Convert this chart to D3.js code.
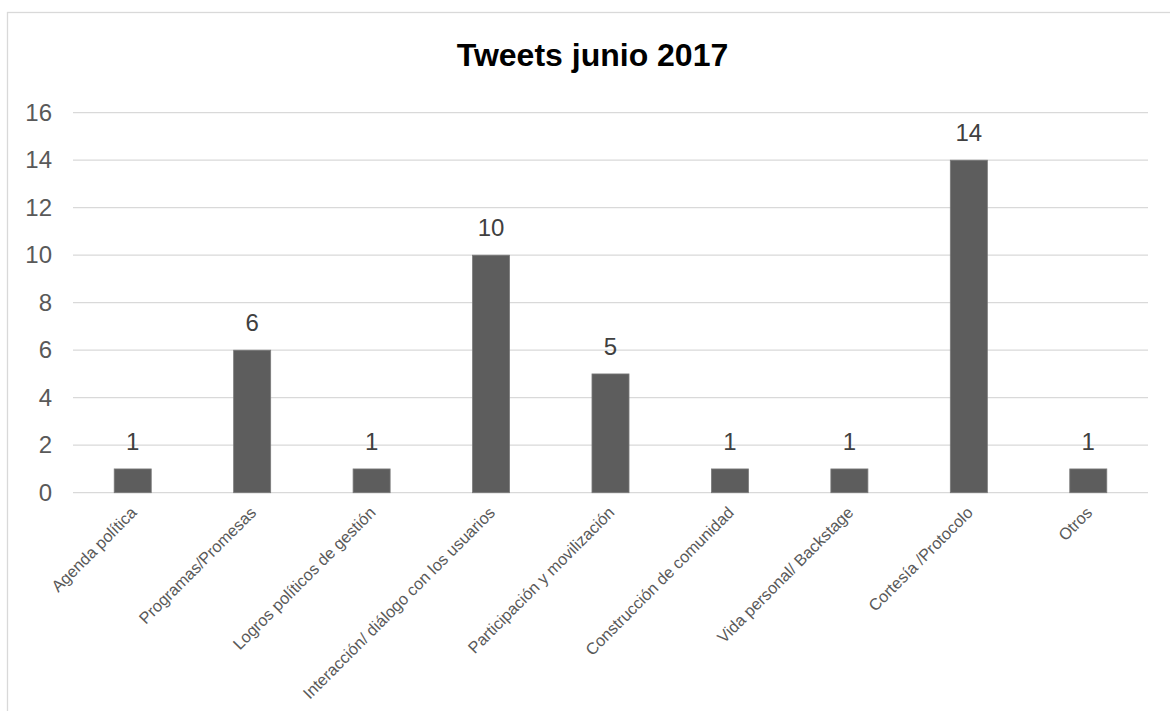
<!DOCTYPE html>
<html>
<head>
<meta charset="utf-8">
<script src="https://cdn.jsdelivr.net/npm/d3@7"></script>
<style>
  html, body { margin: 0; padding: 0; background: #fff; }
  svg { display: block; font-family: "Liberation Sans", Arial, sans-serif; }
</style>
</head>
<body>
<svg id="chart" width="1170" height="711"></svg>
<script>
// Tweet counts by category, June 2017
const categories = [
  "Agenda política",
  "Programas/Promesas",
  "Logros políticos de gestión",
  "Interacción/ diálogo con los usuarios",
  "Participación y movilización",
  "Construcción de comunidad",
  "Vida personal/ Backstage",
  "Cortesía /Protocolo",
  "Otros"
];
const tweets = [1, 6, 1, 10, 5, 1, 1, 14, 1];
const yTicks = [0, 2, 4, 6, 8, 10, 12, 14, 16];
const chartTitle = "Tweets junio 2017";

const svg = d3.select("#chart");
const plot = { left: 73, right: 1148, top: 112.7, bottom: 492.7 };

// outer frame (runs past the right and bottom edges)
svg.append("rect")
  .attr("x", 7.5).attr("y", 12.5)
  .attr("width", 1300).attr("height", 900)
  .attr("fill", "#fff")
  .attr("stroke", "#d9d9d9").attr("stroke-width", 1.3);

const x = d3.scaleBand()
  .domain(categories)
  .range([plot.left, plot.right])
  .paddingInner(0.69)
  .paddingOuter(0.345);

const y = d3.scaleLinear()
  .domain([0, 16])
  .range([plot.bottom, plot.top]);

// horizontal gridlines
svg.append("g")
  .selectAll("line")
  .data(yTicks)
  .join("line")
  .attr("x1", plot.left).attr("x2", plot.right)
  .attr("y1", d => y(d)).attr("y2", d => y(d))
  .attr("stroke", "#d9d9d9").attr("stroke-width", 1.3);

// y axis labels
const yAxis = d3.axisLeft(y).tickValues(yTicks).tickSize(0).tickPadding(0);
const gy = svg.append("g").attr("transform", "translate(52,0)").call(yAxis);
gy.select(".domain").remove();
gy.selectAll("text")
  .attr("fill", "#595959")
  .style("font-size", "24px")
  .style("font-family", "'Liberation Sans', Arial, sans-serif");

// bars
svg.append("g")
  .selectAll("rect")
  .data(categories)
  .join("rect")
  .attr("x", d => x(d))
  .attr("width", x.bandwidth())
  .attr("y", (d, i) => y(tweets[i]))
  .attr("height", (d, i) => y(0) - y(tweets[i]))
  .attr("fill", "#5d5d5d")
  .attr("stroke", "#7a7a7a").attr("stroke-width", 0.8);

// value labels above bars
svg.append("g")
  .selectAll("text")
  .data(categories)
  .join("text")
  .attr("x", d => x(d) + x.bandwidth() / 2)
  .attr("y", (d, i) => y(tweets[i]) - 19)
  .attr("text-anchor", "middle")
  .attr("fill", "#404040")
  .style("font-size", "24px")
  .text((d, i) => tweets[i]);

// rotated category labels
const xAxis = d3.axisBottom(x).tickSize(0).tickPadding(0);
const gx = svg.append("g").attr("transform", `translate(0,${plot.bottom})`).call(xAxis);
gx.select(".domain").remove();
gx.selectAll("text")
  .attr("y", 0).attr("dy", 0)
  .attr("text-anchor", "end")
  .attr("transform", "translate(5,21) rotate(-45)")
  .attr("fill", "#595959")
  .style("font-size", "16.3px")
  .style("font-family", "'Liberation Sans', Arial, sans-serif");

// title
svg.append("text")
  .attr("x", 592.5).attr("y", 66)
  .attr("text-anchor", "middle")
  .attr("fill", "#000")
  .style("font-size", "32px")
  .style("font-weight", "bold")
  .text(chartTitle);
</script>
</body>
</html>
